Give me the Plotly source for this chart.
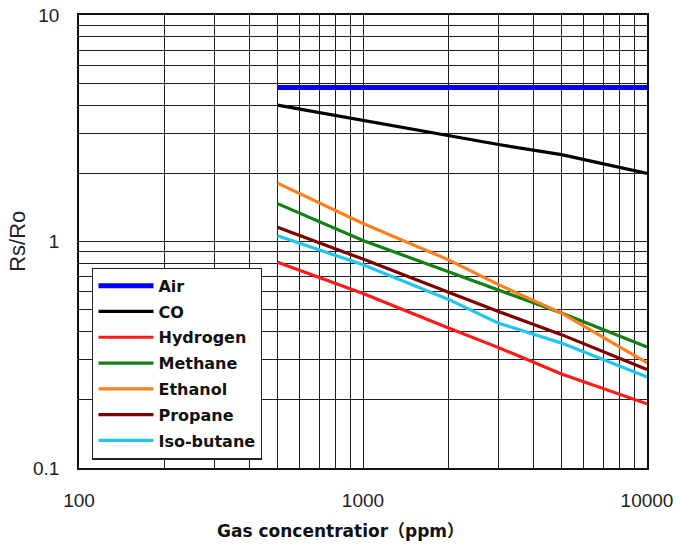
import plotly.graph_objects as go

# Data
conc_ppm = [500, 1000, 2000, 3000, 5000, 10000]
air = [4.78, 4.78, 4.78, 4.78, 4.78, 4.78]
co = [4.0, 3.42, 2.92, 2.68, 2.42, 2.0]
hydrogen = [0.81, 0.59, 0.415, 0.34, 0.26, 0.192]
methane = [1.47, 1.01, 0.735, 0.612, 0.483, 0.342]
ethanol = [1.81, 1.2, 0.83, 0.645, 0.483, 0.291]
propane = [1.155, 0.836, 0.597, 0.491, 0.388, 0.272]
isobutane = [1.06, 0.79, 0.555, 0.436, 0.356, 0.252]

series_names = ["Air", "CO", "Hydrogen", "Methane", "Ethanol", "Propane", "Iso-butane"]
series_values = [air, co, hydrogen, methane, ethanol, propane, isobutane]
series_colors = ["#0000FF", "#000000", "#FF1A1A", "#138013", "#FF7F1E", "#7F0000", "#22C4F2"]
series_widths = [5, 3.2, 3.2, 3.2, 3.2, 3.2, 3.2]

x_grid = [100, 200, 300, 400, 500, 600, 700, 800, 900,
          1000, 2000, 3000, 4000, 5000, 6000, 7000, 8000, 9000, 10000]
x_labels = ["100"] + [""] * 8 + ["1000"] + [""] * 8 + ["10000"]
y_grid = [0.1, 0.2, 0.3, 0.4, 0.5, 0.6, 0.7, 0.8, 0.9,
          1, 2, 3, 4, 5, 6, 7, 8, 9, 10]
y_labels = ["0.1"] + [""] * 8 + ["1"] + [""] * 8 + ["10"]

fig = go.Figure()
for i, (name, vals, col, w) in enumerate(zip(series_names, series_values, series_colors, series_widths)):
    fig.add_trace(go.Scatter(
        x=conc_ppm, y=vals, mode="lines", name=name,
        line=dict(color=col, width=w), legendgroup=f"g{i}",
    ))

grid_color = "#1e1e1e"
tick_font = dict(family="Liberation Sans, Arial, sans-serif", size=19, color="#222")

fig.update_xaxes(
    type="log", range=[2, 4], tickvals=x_grid, ticktext=x_labels,
    showgrid=True, gridcolor=grid_color, gridwidth=1.3,
    showline=True, linecolor="#111", linewidth=1.5, mirror=True,
    ticks="", ticklabelstandoff=14, tickfont=tick_font, automargin=False,
)
fig.update_yaxes(
    type="log", range=[-1, 1], tickvals=y_grid, ticktext=y_labels,
    showgrid=True, gridcolor=grid_color, gridwidth=1.3,
    showline=True, linecolor="#111", linewidth=1.5, mirror=True,
    ticks="", ticklabelstandoff=14, tickfont=tick_font, automargin=False,
)

fig.add_annotation(
    text="Gas concentratior（ppm）", xref="paper", yref="paper",
    x=0.4596, y=-0.138, xanchor="center", yanchor="middle", showarrow=False,
    font=dict(family="DejaVu Sans, Noto Sans CJK KR", size=17, color="#111", weight="bold"),
)
fig.add_annotation(
    text="Rs/Ro", xref="paper", yref="paper", textangle=-90,
    x=-0.1085, y=0.5, xanchor="center", yanchor="middle", showarrow=False,
    font=dict(family="Liberation Sans, Arial, sans-serif", size=22, color="#222"),
)

fig.update_layout(
    width=680, height=544,
    margin=dict(l=79, r=33, t=15, b=76),
    paper_bgcolor="white", plot_bgcolor="white",
    showlegend=True,
    legend=dict(
        x=0.0234, y=0.4425, xanchor="left", yanchor="top",
        bgcolor="white", bordercolor="#222", borderwidth=1.2,
        font=dict(family="DejaVu Sans", size=16, color="#111", weight="bold"),
        itemwidth=55, tracegroupgap=2,
    ),
)

fig.write_html(
    "out.html",
    config={"displayModeBar": False},
    post_script="document.body.style.margin='0';",
)
